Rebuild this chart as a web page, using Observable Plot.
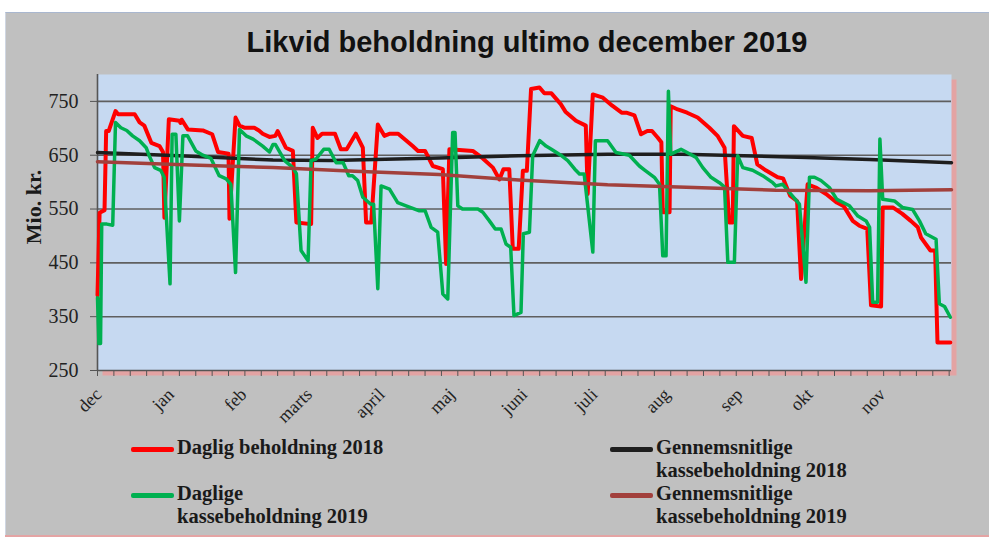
<!DOCTYPE html>
<html><head><meta charset="utf-8">
<script src="https://cdn.jsdelivr.net/npm/d3@7"></script>
<script src="https://cdn.jsdelivr.net/npm/@observablehq/plot@0.6"></script>
<style>
html,body{margin:0;padding:0;background:#fff}
body{width:989px;height:539px;overflow:hidden;position:relative;font-family:"Liberation Serif",serif;color:#1a1a1a}
#frame{position:absolute;left:5px;top:12px;width:990px;height:522px;background:#c0c0c0;border-top:1px solid #a9b7cf;border-left:1px solid #cfd6e2;box-shadow:0 2px 0 #e4a4a4}
#chart{position:absolute;left:0;top:0}
#title{position:absolute;left:527px;top:28px;transform:translateX(-50%);white-space:nowrap;font:bold 29px "Liberation Sans",Arial,sans-serif;line-height:29px;color:#111}
#ylab{position:absolute;left:34px;top:207px;transform:translate(-50%,-50%) rotate(-90deg);white-space:nowrap;font:bold 22px "Liberation Serif",serif;color:#1a1a1a}
.sw{position:absolute;width:43px;height:5px;border-radius:2px}
.lt{position:absolute;font:bold 20.5px "Liberation Serif",serif;line-height:23px;white-space:nowrap;color:#1a1a1a}
</style></head>
<body>
<div id="frame"></div>
<div id="chart"></div>
<div id="title">Likvid beholdning ultimo december 2019</div>
<div id="ylab">Mio. kr.</div>
<div id="legend"></div>
<script>
// ---- data (day index from 1 Dec, value in mio. kr.) ----
const monthDays = [0, 31, 62, 90, 121, 151, 182, 212, 243, 274, 304, 335];
const monthLabels = ["dec", "jan", "feb", "marts", "april", "maj", "juni", "juli", "aug", "sep", "okt", "nov"];
const yTicks = [250, 350, 450, 550, 650, 750];
const gridTicks = [350, 450, 550, 650, 750];

const daglig2018 = [
  [0,390],[0.9,543],[3,548],[3.7,695],[4.8,695],[7.7,732],[8.8,726],[15.9,726],[18,711],[20,705],[23,673],[26.5,667],[28,656],[28.6,534],
  [30.5,717],[35,714],[35.5,710],[36,716],[38.6,698],[45,696],[49,689],[51.5,656],[56,653],[56.4,532],[59,720],[60.7,705],[63,701],[67,701],
  [69,696],[70.6,690],[73.5,684],[76,686],[77,695],[80.5,664],[83.5,658],[85,525],[91.3,522],[92,701],[94,682],[96,690],[101.5,690],[104,661],
  [106.5,661],[110.4,690],[113.4,664],[114.8,525],[117,525],[119.8,707],[122.6,686],[125,690],[128.5,690],[134.7,667],[137,658],[140,658],
  [143.3,630],[147.6,624],[149,448],[150.4,661],[160.4,658],[164.7,644],[169,627],[171.8,605],[173.5,624],[176,624],[177.5,476],[180,476],
  [181.8,621],[183.5,621],[185.3,773],[188.9,776],[191,765],[194,765],[198,745],[200,731],[204.5,714],[208.7,705],[209.5,578],[211.7,763],
  [216,757],[220,742],[224,729],[226,729],[229.5,724],[232.3,689],[235,695],[237,695],[239.4,683],[241,674],[241.6,544],[244.5,544],[245,741],
  [248,735],[252,729],[256.5,720],[261.5,701],[265,686],[268,664],[270,525],[271.5,525],[272,704],[275.8,686],[279.6,682],[282,633],[285.6,622],
  [290.7,609],[293,607],[296,575],[299,565],[300.7,420],[303.5,596],[307,590],[311.4,578],[316,562],[319,555],[322.8,528],[325.6,519],[329,513],
  [330.6,371],[334.9,369],[335.6,553],[339.9,553],[344,541],[347.6,528],[350.6,516],[352,497],[356,473],[358,473],[359,302],[364.5,302]
];
const daglig2019 = [
  [0,385],[0.6,300],[1.3,300],[1.8,522],[4,522],[6.5,520],[7.7,711],[10,701],[12.5,696],[15,686],[18,677],[20.8,664],[22,650],[24.4,627],
  [27,622],[28.5,609],[31,411],[31.9,689],[33.5,689],[35,528],[36.5,686],[38.5,686],[42,658],[45,650],[48.5,644],[52,612],[55,606],[57,596],
  [59,432],[60.7,698],[63.5,686],[66.5,680],[70.6,667],[73.5,656],[75,670],[76,670],[80,640],[83.5,627],[85,616],[87,473],[90,454],[91.3,640],
  [93.4,643],[96.7,661],[99,661],[102,636],[105,636],[107.4,612],[109,612],[111.2,603],[113.4,572],[116.8,559],[118,559],[119.8,402],[121.2,593],
  [124.8,587],[128.3,562],[131.9,556],[137.3,547],[140,547],[142.6,516],[145.4,507],[147.6,392],[149.7,383],[151.8,692],[152.8,692],[154,556],
  [156,550],[162.6,550],[164.7,544],[167.5,528],[170,513],[172.5,513],[174.6,485],[176.6,479],[178,352],[181,358],[182,504],[184.6,507],[186,649],
  [189,677],[191.7,667],[194,661],[198,650],[201,640],[204,624],[206,615],[208,615],[211.7,470],[212.8,677],[218,677],[221.6,655],[227.3,650],
  [231.6,630],[234,622],[238,609],[240.2,596],[241.6,463],[243,463],[244,769],[245,652],[249.4,661],[252,655],[255.8,646],[258.7,627],[262.2,609],
  [265.8,599],[268,591],[269.4,451],[272.2,451],[273.6,649],[275.8,627],[280,622],[284.3,612],[288.6,599],[290,593],[292.9,596],[295.7,581],
  [300,559],[302.8,414],[304.3,609],[306.4,609],[309.2,603],[312.8,590],[316,568],[321.4,556],[325,537],[328.5,528],[330,516],[331.3,377],
  [333.4,377],[334.4,680],[335.6,568],[340.6,565],[344,553],[348.4,549],[351.3,528],[354,504],[358.4,494],[359.8,374],[362,369],[364.5,349]
];
const gns2018 = [[0,655],[40,648],[75,641],[100,640],[146,645],[180,649],[218,652],[250,652],[303,646],[330,642],[365,636]];
const gns2019 = [[0,638],[40,632],[75,627],[110,620],[146,614],[180,604],[218,595],[255,590],[290,585],[330,584],[365,586]];

const legendItems = [
  {color: "#ff0000", lines: ["Daglig beholdning 2018"], x: 131, y: 449},
  {color: "#1e1e1e", lines: ["Gennemsnitlige", "kassebeholdning 2018"], x: 610, y: 449},
  {color: "#00b050", lines: ["Daglige", "kassebeholdning 2019"], x: 131, y: 495},
  {color: "#a2403c", lines: ["Gennemsnitlige", "kassebeholdning 2019"], x: 610, y: 495}
];

const weekTicks = d3.range(0, 365, 7);
const px = d => d[0], py = d => d[1];

const chart = Plot.plot({
  width: 989, height: 440,
  marginLeft: 97, marginRight: 38, marginTop: 74, marginBottom: 70,
  style: {background: "transparent", fontFamily: "Liberation Serif, serif", color: "#222", overflow: "visible"},
  x: {domain: [0, 365]},
  y: {domain: [250, 800]},
  marks: [
    Plot.frame({fill: "#e3a3a3", stroke: null, dx: 5, dy: 5}),
    Plot.frame({fill: "#c6d9f1", stroke: null}),
    Plot.gridY(gridTicks, {stroke: "#5f5f5f", strokeWidth: 1.6, strokeOpacity: 1}),
    Plot.axisY({ticks: yTicks, tickSize: 7, tickPadding: 12, fontSize: 20, label: null, stroke: "#555"}),
    Plot.axisX({ticks: weekTicks, tickSize: 6, tickFormat: () => "", label: null, stroke: "#555"}),
    Plot.axisX({ticks: monthDays, tickSize: 0, tickPadding: 21, tickRotate: -45, fontSize: 18,
                tickFormat: (d) => monthLabels[monthDays.indexOf(d)], label: null, dx: 1}),
    Plot.ruleX([0], {stroke: "#555", strokeWidth: 1.6}),
    Plot.ruleY([250], {stroke: "#555", strokeWidth: 1.6}),
    Plot.line(daglig2018, {x: px, y: py, stroke: "#ff0000", strokeWidth: 4, strokeLinejoin: "round"}),
    Plot.line(gns2018, {x: px, y: py, stroke: "#1e1e1e", strokeWidth: 3.5}),
    Plot.line(daglig2019, {x: px, y: py, stroke: "#00b050", strokeWidth: 3.5, strokeLinejoin: "round"}),
    Plot.line(gns2019, {x: px, y: py, stroke: "#a2403c", strokeWidth: 3.5})
  ]
});
document.getElementById("chart").appendChild(chart);

const leg = document.getElementById("legend");
for (const it of legendItems) {
  const sw = document.createElement("div");
  sw.className = "sw";
  sw.style.background = it.color;
  sw.style.left = it.x + "px";
  sw.style.top = (it.y - 2.5) + "px";
  leg.appendChild(sw);
  const t = document.createElement("div");
  t.className = "lt";
  t.style.left = (it.x + 46) + "px";
  t.style.top = (it.y - 13) + "px";
  t.innerHTML = it.lines.join("<br>");
  leg.appendChild(t);
}
</script>
</body></html>
